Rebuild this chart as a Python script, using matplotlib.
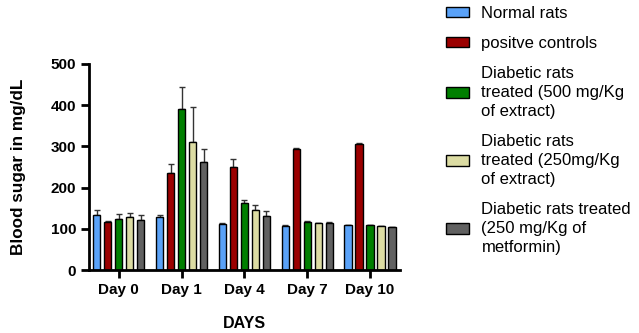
import numpy as np
import matplotlib.pyplot as plt
from matplotlib.patches import Patch

plt.rcParams['font.family'] = ['Liberation Sans', 'DejaVu Sans']

days = ['Day 0', 'Day 1', 'Day 4', 'Day 7', 'Day 10']
groups = ['Normal rats', 'positve controls',
          'Diabetic rats\ntreated (500 mg/Kg\nof extract)',
          'Diabetic rats\ntreated (250mg/Kg\nof extract)',
          'Diabetic rats treated\n(250 mg/Kg of\nmetformin)']
colors = ['#5aa2f8', '#9b0000', '#007f00', '#dcdca3', '#616161']

normal = [133, 128, 112, 108, 109]
positive = [116, 235, 249, 294, 307]
ext500 = [125, 390, 162, 116, 109]
ext250 = [128, 310, 145, 114, 106]
metformin = [121, 261, 130, 113, 104]

normal_err = [12, 5, 1, 2, 1]
positive_err = [4, 22, 21, 2, 2]
ext500_err = [10, 55, 9, 4, 1]
ext250_err = [11, 86, 13, 1, 2]
metformin_err = [12, 32, 14, 4, 1]

means = [normal, positive, ext500, ext250, metformin]
errs = [normal_err, positive_err, ext500_err, ext250_err, metformin_err]

fig = plt.figure(figsize=(6.39, 3.33), dpi=100)
ax = fig.add_axes([0.139, 0.189, 0.487, 0.619])

x = np.arange(len(days))
pitch = 0.175
width = 0.115
for i in range(5):
    pos = x + (i - 2) * pitch
    e = np.array(errs[i])
    ax.bar(pos, means[i], width, color=colors[i], edgecolor='black',
           linewidth=1, label=groups[i], zorder=2)
    ax.errorbar(pos, means[i], yerr=[np.zeros_like(e), e], fmt='none',
                ecolor='#333333', elinewidth=1, capsize=2, capthick=1,
                zorder=1)

ax.set_xlim(-0.476, 4.476)
ax.set_ylim(0, 500)
ax.set_yticks(np.arange(0, 501, 100))
ax.set_xticks(x)
ax.set_xticklabels(days, fontsize=11, fontweight='bold')
for lab in ax.get_yticklabels():
    lab.set_fontsize(11)
    lab.set_fontweight('bold')
ax.spines['top'].set_visible(False)
ax.spines['right'].set_visible(False)
ax.spines['left'].set_linewidth(2)
ax.spines['bottom'].set_linewidth(2)
ax.tick_params(axis='both', width=2, length=6, pad=3)
ax.set_ylabel('Blood sugar in mg/dL', fontsize=12.3, fontweight='bold', labelpad=18)
ax.set_xlabel('DAYS', fontsize=11.5, fontweight='bold', labelpad=14)

handles = [Patch(facecolor=c, edgecolor='black', linewidth=1) for c in colors]
leg = fig.legend(handles, groups, loc='upper left', bbox_to_anchor=(0.687, 1.002),
                 frameon=False, fontsize=12, handlelength=1.4, handleheight=0.6,
                 handletextpad=0.75, labelspacing=0.9, borderaxespad=0)
for t in leg.get_texts():
    t.set_linespacing(1.33)

fig.savefig('out.png', dpi=100)
